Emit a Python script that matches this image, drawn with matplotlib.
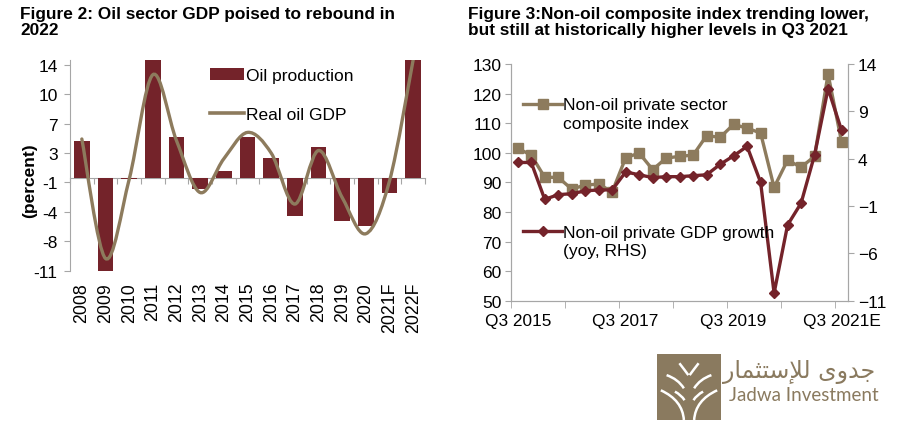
import numpy as np
import matplotlib
matplotlib.use("Agg")
import matplotlib.pyplot as plt
from matplotlib.path import Path
from matplotlib.patches import PathPatch, Patch, Rectangle
from matplotlib.lines import Line2D

plt.rcParams['font.family'] = ['Liberation Sans', 'DejaVu Sans']

# ---- data: figure 2 ----
years = ['2008', '2009', '2010', '2011', '2012', '2013', '2014', '2015',
         '2016', '2017', '2018', '2019', '2020', '2021F', '2022F']
oil_production = [4.4, -11.3, -0.2, 15.0, 4.9, -1.4, 0.8, 5.0,
                  2.4, -4.7, 3.7, -5.2, -5.9, -1.9, 15.0]
real_oil_gdp = [4.7, -9.8, -0.2, 12.5, 4.5, -1.8, 2.3, 5.5,
                3.0, -3.2, 3.3, -2.4, -6.8, -0.4, 14.3]
left_tick_labels = ['14', '10', '7', '3', '-1', '-4', '-8', '-11']

# ---- data: figure 3 ----
quarters = ['Q3 2015', 'Q4 2015', 'Q1 2016', 'Q2 2016', 'Q3 2016', 'Q4 2016',
            'Q1 2017', 'Q2 2017', 'Q3 2017', 'Q4 2017', 'Q1 2018', 'Q2 2018',
            'Q3 2018', 'Q4 2018', 'Q1 2019', 'Q2 2019', 'Q3 2019', 'Q4 2019',
            'Q1 2020', 'Q2 2020', 'Q3 2020', 'Q4 2020', 'Q1 2021', 'Q2 2021',
            'Q3 2021E']
composite_index = [101.5, 99.2, 91.7, 91.7, 87.7, 89.1, 89.4, 86.8, 98.3, 99.9,
                   94.3, 98.2, 98.8, 99.2, 105.8, 105.2, 109.6, 108.3, 106.7,
                   88.3, 97.5, 95.1, 98.8, 126.6, 103.7]
gdp_growth = [3.6, 3.6, -0.3, 0.2, 0.3, 0.6, 0.7, 0.7, 2.6, 2.3, 2.0, 2.1,
              2.1, 2.2, 2.3, 3.4, 4.3, 5.3, 1.5, -10.2, -3.0, -0.7, 4.4,
              11.4, 7.0]
q_labels = ['Q3 2015', 'Q3 2017', 'Q3 2019', 'Q3 2021E']

RED = '#74232a'
TAN = '#8d7b5d'
GRAY = '#a6a6a6'
LOGO = '#8a7a5f'
W, H = 900, 435


def fx(px):
    return px / W


def fy(py):
    return 1 - py / H


fig = plt.figure(figsize=(9, 4.35), dpi=100)

# ================= Figure 2 =================
fig.text(fx(20), fy(7), 'Figure 2: Oil sector GDP poised to rebound in\n2022',
         fontsize=12.4, fontweight='bold', va='top', ha='left', linespacing=1.08)

ax = fig.add_axes([fx(70), fy(271.7), fx(355), (271.7 - 60.9) / H])
ylo, yhi = -79 / 7, 14.3
x = np.arange(len(years))
ax.bar(x, oil_production, width=0.66, color=RED, zorder=2)

# smooth line (Excel-style spline) drawn with cubic bezier segments
pts = np.column_stack([x, real_oil_gdp]).astype(float)
verts = [pts[0]]
codes = [Path.MOVETO]
for i in range(len(pts) - 1):
    prev = pts[i - 1] if i > 0 else pts[i]
    nxt = pts[i + 2] if i + 2 < len(pts) else pts[i + 1]
    c1 = pts[i] + (pts[i + 1] - prev) / 6
    c2 = pts[i + 1] - (nxt - pts[i]) / 6
    verts += [c1, c2, pts[i + 1]]
    codes += [Path.CURVE4] * 3
ax.add_patch(PathPatch(Path(verts, codes), fill=False, edgecolor=TAN,
                       lw=2.4, zorder=3, capstyle='round'))

ax.set_xlim(-0.5, len(years) - 0.5)
ax.set_ylim(ylo, yhi)
ax.set_yticks([(96 - 25 * k) / 7 for k in range(8)])
ax.set_yticklabels(left_tick_labels)
ax.set_xticks(x)
ax.set_xticklabels(years, rotation=90)
ax.tick_params(axis='x', length=0, pad=8, labelsize=12.8)
ax.tick_params(axis='y', length=4, color=GRAY, pad=5, labelsize=12.5)
for s in ['top', 'right', 'bottom']:
    ax.spines[s].set_visible(False)
ax.spines['left'].set_color(GRAY)

zero_loc = (0 - ylo) / (yhi - ylo)
sec = ax.secondary_xaxis(zero_loc)
sec.set_xticks(np.arange(len(years) + 1) - 0.5)
sec.set_xticklabels([])
sec.tick_params(length=4, color=GRAY, direction='out')
sec.spines['bottom'].set_color(GRAY)

ax.set_ylabel('(percent)', fontsize=12.5, fontweight='bold')
ax.yaxis.set_label_coords(-0.093, 0.43)

ax.legend([Patch(facecolor=RED), Line2D([], [], color=TAN, lw=2.6)],
          ['Oil production', 'Real oil GDP'], loc='upper left',
          bbox_to_anchor=(fx(210), fy(69)), bbox_transform=fig.transFigure,
          frameon=False, fontsize=12.5, handlelength=1.95, handletextpad=0.15,
          labelspacing=1.35, borderpad=0, borderaxespad=0)

# ================= Figure 3 =================
fig.text(fx(468), fy(7),
         'Figure 3:Non-oil composite index trending lower,\n'
         'but still at historically higher levels in Q3 2021',
         fontsize=12.4, fontweight='bold', va='top', ha='left', linespacing=1.08)

axl = fig.add_axes([fx(511), fy(301.7), fx(337.3), (301.7 - 65) / H])
axr = axl.twinx()
q = np.arange(len(quarters))
axl.plot(q, composite_index, color=TAN, lw=2.4, marker='s', ms=7.5,
         mec=TAN, mfc=TAN, zorder=2)
axr.plot(q, gdp_growth, color=RED, lw=2.4, marker='D', ms=5.5,
         mec=RED, mfc=RED, zorder=3)

axl.set_xlim(-0.5, len(quarters) - 0.5)
axl.set_ylim(50, 130)
axl.set_yticks(range(50, 131, 10))
axr.set_ylim(-11, 14)
axr.set_yticks(range(-11, 15, 5))
axl.set_xticks([quarters.index(lbl) for lbl in q_labels])
axl.set_xticklabels(q_labels)
axl.set_xticks(np.arange(-0.5, len(quarters), 4), minor=True)
axl.tick_params(axis='x', which='major', length=0, pad=9, labelsize=12.4)
axl.tick_params(axis='x', which='minor', length=5, color=GRAY)
axl.tick_params(axis='y', length=4, color=GRAY, pad=3, labelsize=12.5)
axr.tick_params(axis='y', length=4, color=GRAY, pad=3, labelsize=12.5)
for a in (axl, axr):
    a.spines['top'].set_visible(False)
    for s in ['left', 'right', 'bottom']:
        a.spines[s].set_color(GRAY)

# legend entries
fig.add_artist(Line2D([fx(523), fx(562)], [fy(105), fy(105)], color=TAN, lw=2.4,
                      transform=fig.transFigure))
fig.add_artist(Line2D([fx(542.5)], [fy(105)], color=TAN, marker='s', ms=7.5,
                      transform=fig.transFigure))
fig.text(fx(563), fy(98), 'Non-oil private sector\ncomposite index',
         fontsize=12.5, va='top', ha='left', linespacing=1.3)
fig.add_artist(Line2D([fx(523), fx(562)], [fy(232), fy(232)], color=RED, lw=2.4,
                      transform=fig.transFigure))
fig.add_artist(Line2D([fx(542.5)], [fy(232)], color=RED, marker='D', ms=5.5,
                      transform=fig.transFigure))
fig.text(fx(563), fy(226), 'Non-oil private GDP growth\n(yoy, RHS)',
         fontsize=12.5, va='top', ha='left', linespacing=1.22)

# ================= logo =================
lg = fig.add_axes([fx(657), fy(421), fx(64), 66 / H])
lg.set_xlim(0, 1)
lg.set_ylim(0, 1)
lg.axis('off')
lg.add_patch(Rectangle((0, 0), 1, 1, color=LOGO))


def stroke(p0, p1, p2):
    path = Path([p0, p1, p2], [Path.MOVETO, Path.CURVE3, Path.CURVE3])
    lg.add_patch(PathPatch(path, fill=False, edgecolor='white', lw=1.8))


for sgn in (1, -1):
    def m(px, py):
        return (0.5 + sgn * (px - 0.5), py)
    stroke(m(0.35, 0.86), m(0.43, 0.76), m(0.49, 0.68))
    stroke(m(0.15, 0.68), m(0.33, 0.62), m(0.42, 0.48))
    stroke(m(0.06, 0.45), m(0.40, 0.30), m(0.42, 0.0))
    stroke(m(0.28, 0.43), m(0.38, 0.38), m(0.43, 0.30))

arabic = '\uFEAD\uFE8E\uFEE4\uFE9C\uFE98\uFEB3\uFEFA\uFEDF \uFEEF\uFEED\uFEAA\uFE9F'
fig.text(fx(875), fy(372), arabic, fontsize=17, color=LOGO,
         ha='right', va='center', family=['DejaVu Sans'])
fig.text(fx(729), fy(396), 'Jadwa Investment', fontsize=13.5, color=LOGO,
         ha='left', va='center', family=['Lato', 'DejaVu Sans'])

fig.savefig('out.png', dpi=100)
